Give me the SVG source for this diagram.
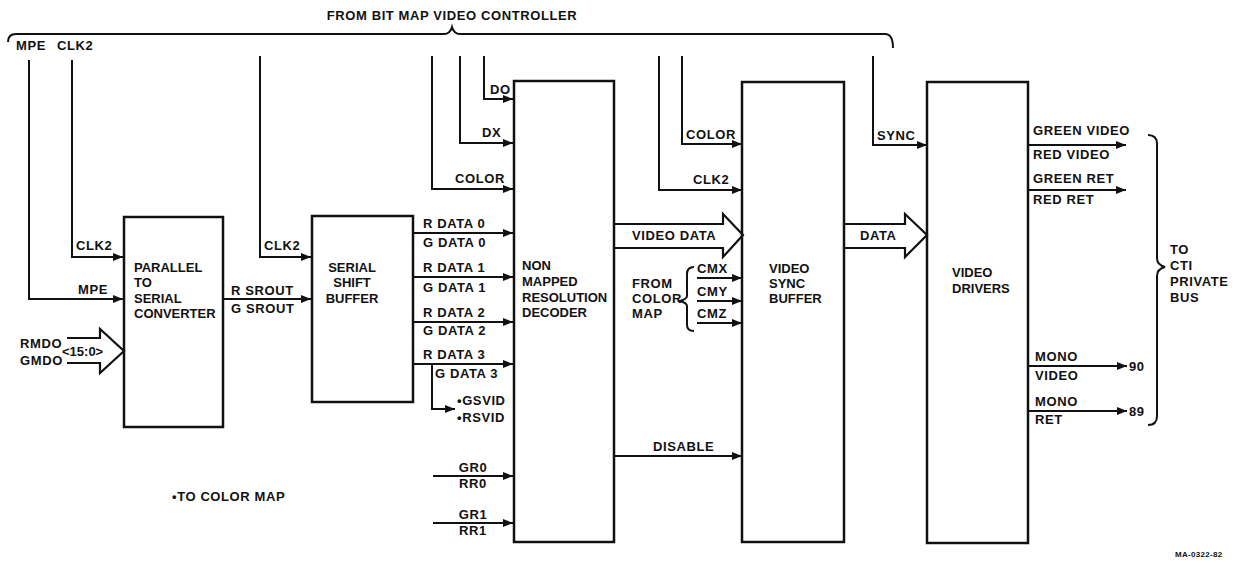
<svg xmlns="http://www.w3.org/2000/svg" width="1238" height="563" viewBox="0 0 1238 563">
<style>
text{font-family:"Liberation Sans",Arial,sans-serif;font-weight:bold;font-size:13px;fill:#111;letter-spacing:0.6px}
.nt text{letter-spacing:0}
.box{fill:none;stroke:#111;stroke-width:2.5}
.ln{fill:none;stroke:#111;stroke-width:2}
.ar{fill:none;stroke:#111;stroke-width:2;marker-end:url(#ah)}
.big{fill:#fff;stroke:#111;stroke-width:2.2;stroke-linejoin:miter}
.c{text-anchor:middle}
.sm{font-size:8px;letter-spacing:0.3px}
</style>
<defs>
<marker id="ah" viewBox="0 0 10 8" refX="10" refY="4" markerWidth="10" markerHeight="8" markerUnits="userSpaceOnUse" orient="auto">
<path d="M0,0 L10,4 L0,8 z" fill="#111"/>
</marker>
</defs>
<rect width="1238" height="563" fill="#fff"/>

<g id="title">
<text x="452" y="20" class="c">FROM BIT MAP VIDEO CONTROLLER</text>
<path class="ln" d="M8,42 Q8,34 16,34 L444,34 Q450,34 452,27 Q454,34 460,34 L885,34 Q893,34 893,48"/>
</g>

<g id="connectors">
<path class="ar" d="M29,60 L29,299 L123,299"/>
<path class="ar" d="M72,60 L72,257 L123,257"/>
<path class="ar" d="M260,56 L260,257 L311,257"/>
<path class="ar" d="M223,299 L311,299"/>
<path class="ar" d="M484,56 L484,99 L513,99"/>
<path class="ar" d="M460,56 L460,143 L513,143"/>
<path class="ar" d="M432,56 L432,189 L513,189"/>
<path class="ar" d="M413,233 L513,233"/>
<path class="ar" d="M413,277 L513,277"/>
<path class="ar" d="M413,322 L513,322"/>
<path class="ar" d="M413,364 L513,364"/>
<path class="ar" d="M432,364 L432,409 L455,409"/>
<path class="ar" d="M433,476 L513,476"/>
<path class="ar" d="M433,523 L513,523"/>
<path class="ar" d="M682,56 L682,144 L742,144"/>
<path class="ar" d="M659,56 L659,190 L742,190"/>
<path class="ar" d="M697,278 L742,278"/>
<path class="ar" d="M697,301 L742,301"/>
<path class="ar" d="M697,323 L742,323"/>
<path class="ar" d="M614,456 L742,456"/>
<path class="ar" d="M873,56 L873,145 L927,145"/>
<path class="ar" d="M1028,145 L1126,145"/>
<path class="ar" d="M1028,190 L1126,190"/>
<path class="ar" d="M1028,366 L1127,366"/>
<path class="ar" d="M1028,411 L1127,411"/>
<path class="big" d="M67,338 L100,338 L100,329 L124,351 L100,373 L100,363 L67,363"/>
<path class="big" d="M614,224 L723,224 L723,214 L743,235 L723,257 L723,248 L614,248"/>
<path class="big" d="M844,224 L905,224 L905,214 L927,235 L905,257 L905,248 L844,248"/>
<path class="ln" d="M1148,135 Q1157,135 1157,144 L1157,258 Q1157,265 1165,267 Q1157,269 1157,276 L1157,416 Q1157,425 1148,425"/>
<path class="ln" d="M694,267 Q687,267 687,274 L687,296 Q687,299 680,301 Q687,303 687,306 L687,325 Q687,331 694,331"/>
</g>

<g id="parallel" class="nt">
<rect class="box" x="124" y="217" width="99" height="210"/>
<text x="134" y="272">PARALLEL</text>
<text x="134" y="287">TO</text>
<text x="134" y="303">SERIAL</text>
<text x="134" y="318">CONVERTER</text>
</g>

<g id="serial" class="nt">
<rect class="box" x="312" y="216" width="101" height="186"/>
<text x="352" y="272" class="c">SERIAL</text>
<text x="352" y="287" class="c">SHIFT</text>
<text x="352" y="303" class="c">BUFFER</text>
</g>

<g id="nmrd" class="nt">
<rect class="box" x="514" y="81" width="100" height="461"/>
<text x="522" y="270">NON</text>
<text x="522" y="286">MAPPED</text>
<text x="522" y="302">RESOLUTION</text>
<text x="522" y="317">DECODER</text>
</g>

<g id="vsb" class="nt">
<rect class="box" x="742" y="82" width="102" height="460"/>
<text x="769" y="273">VIDEO</text>
<text x="769" y="288">SYNC</text>
<text x="769" y="303">BUFFER</text>
</g>

<g id="vd" class="nt">
<rect class="box" x="927" y="82" width="101" height="461"/>
<text x="952" y="277">VIDEO</text>
<text x="952" y="293">DRIVERS</text>
</g>

<g id="labels">
<text x="16" y="50">MPE</text>
<text x="57" y="50">CLK2</text>
<text x="76" y="250">CLK2</text>
<text x="78" y="294">MPE</text>
<text x="264" y="250">CLK2</text>
<text x="231" y="295">R SROUT</text>
<text x="231" y="313">G SROUT</text>
<text x="20" y="348">RMDO</text>
<text x="20" y="365">GMDO</text>
<text x="62" y="356" style="letter-spacing:0">&lt;15:0&gt;</text>
<text x="490" y="94">DO</text>
<text x="482" y="137">DX</text>
<text x="455" y="183">COLOR</text>
<text x="423" y="228">R DATA 0</text>
<text x="423" y="247">G DATA 0</text>
<text x="423" y="272">R DATA 1</text>
<text x="423" y="292">G DATA 1</text>
<text x="423" y="317">R DATA 2</text>
<text x="423" y="335">G DATA 2</text>
<text x="423" y="359">R DATA 3</text>
<text x="435" y="378">G DATA 3</text>
<text x="457" y="405">•GSVID</text>
<text x="457" y="422">•RSVID</text>
<text x="473" y="472" class="c">GR0</text>
<text x="473" y="488" class="c">RR0</text>
<text x="473" y="519" class="c">GR1</text>
<text x="473" y="535" class="c">RR1</text>
<text x="172" y="501">•TO COLOR MAP</text>
<text x="632" y="240">VIDEO DATA</text>
<text x="653" y="451">DISABLE</text>
<text x="632" y="288">FROM</text>
<text x="632" y="303">COLOR</text>
<text x="632" y="318">MAP</text>
<text x="697" y="273">CMX</text>
<text x="697" y="296">CMY</text>
<text x="697" y="318">CMZ</text>
<text x="686" y="139">COLOR</text>
<text x="693" y="184">CLK2</text>
<text x="860" y="240">DATA</text>
<text x="877" y="140">SYNC</text>
<text x="1033" y="135">GREEN VIDEO</text>
<text x="1033" y="159">RED VIDEO</text>
<text x="1033" y="183">GREEN RET</text>
<text x="1033" y="204">RED RET</text>
<text x="1035" y="361">MONO</text>
<text x="1035" y="380">VIDEO</text>
<text x="1035" y="406">MONO</text>
<text x="1035" y="424">RET</text>
<text x="1129" y="371">90</text>
<text x="1129" y="416">89</text>
<text x="1170" y="254">TO</text>
<text x="1170" y="270">CTI</text>
<text x="1170" y="286">PRIVATE</text>
<text x="1170" y="302">BUS</text>
<text x="1175" y="557" class="sm">MA-0322-82</text>
</g>
</svg>
